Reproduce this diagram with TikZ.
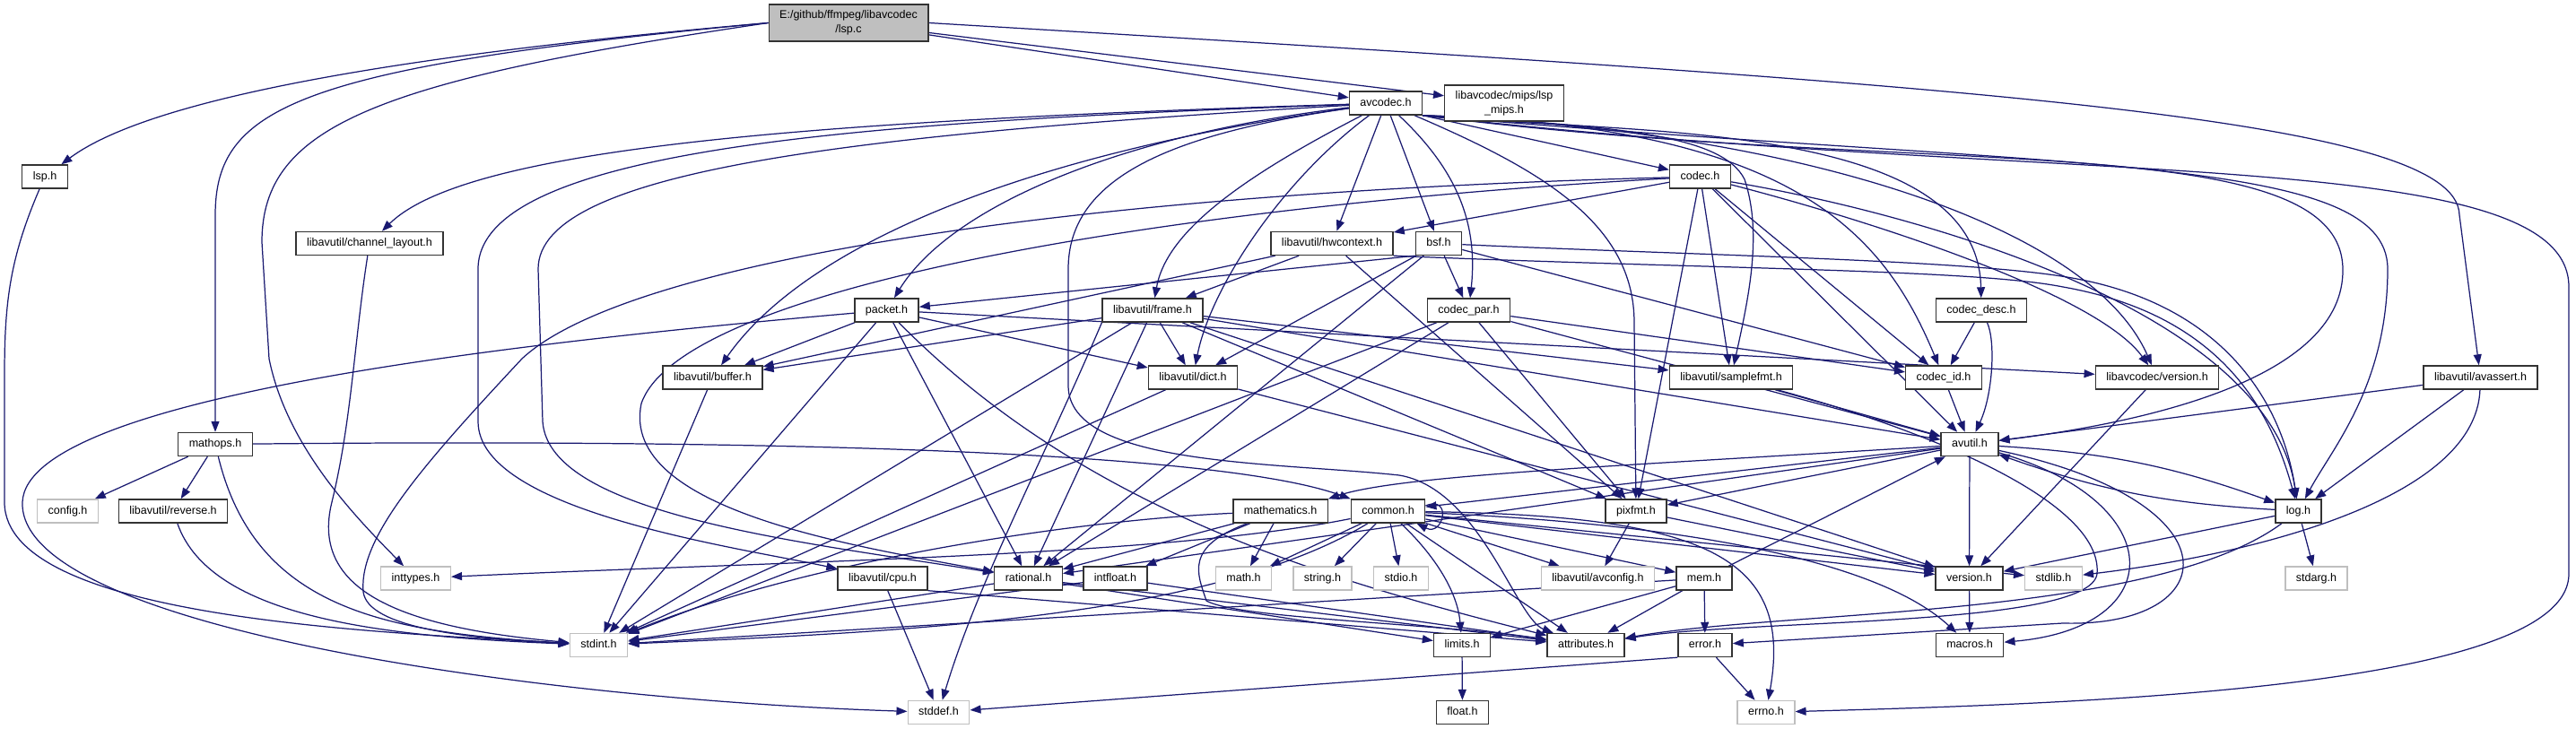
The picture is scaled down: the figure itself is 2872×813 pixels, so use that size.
\documentclass[tikz,border=0pt]{standalone}
\usepackage{fontspec}
\setmainfont{Liberation Sans}
\usepackage{tikz}
\usetikzlibrary{arrows.meta,backgrounds}
\definecolor{edgeblue}{RGB}{25,25,112}
\definecolor{rootgray}{RGB}{191,191,191}
\definecolor{sysgray}{RGB}{191,191,191}

\begin{document}
\begin{tikzpicture}[x=0.01cm, y=-0.01cm,
    font={\fontsize{3.56}{4.55}\selectfont},
    hdr/.style={draw=black!80, fill=white, line width=0.4pt, inner xsep=0.12cm, inner ysep=0pt,
        minimum height=0.26cm, text height=0.092cm, text depth=0.026cm},
    syshdr/.style={hdr, draw=sysgray},
    twoline/.style={hdr, align=center, minimum height=0.40cm, text height={}, text depth={}},
    rootfile/.style={twoline, fill=rootgray, minimum height=0.41cm},
    dep/.style={draw=edgeblue, line width=0.35pt, -{Triangle[length=1.2mm, width=0.9mm]}}]

    \useasboundingbox (0,0) rectangle (2872,813);

    % Row positions (pixels from the top)
    \def\rowO{25.5}
    \def\rowA{115}
    \def\rowB{197}
    \def\rowC{271.5}
    \def\rowD{346}
    \def\rowE{421}
    \def\rowF{495.5}
    \def\rowG{570}
    \def\rowH{645}
    \def\rowI{719.5}
    \def\rowJ{794.5}

    % Files
    \node[rootfile] (lspc) at (946,\rowO) {E:/github/ffmpeg/libavcodec\\/lsp.c};
    \node[hdr] (avcodec) at (1545,\rowA) {avcodec.h};
    \node[twoline] (lspmips) at (1677,\rowA) {libavcodec/mips/lsp\\\_mips.h};
    \node[hdr] (lsph) at (50,\rowB) {lsp.h};
    \node[hdr] (codec) at (1895.5,\rowB) {codec.h};
    \node[hdr] (chlayout) at (412,\rowC) {libavutil/channel\_layout.h};
    \node[hdr] (hwcontext) at (1485,\rowC) {libavutil/hwcontext.h};
    \node[hdr] (bsf) at (1604,\rowC) {bsf.h};
    \node[hdr] (packet) at (988.5,\rowD) {packet.h};
    \node[hdr] (frame) at (1285,\rowD) {libavutil/frame.h};
    \node[hdr] (codecpar) at (1637.5,\rowD) {codec\_par.h};
    \node[hdr] (codecdesc) at (2209,\rowD) {codec\_desc.h};
    \node[hdr] (buffer) at (794.5,\rowE) {libavutil/buffer.h};
    \node[hdr] (dict) at (1330,\rowE) {libavutil/dict.h};
    \node[hdr] (samplefmt) at (1930,\rowE) {libavutil/samplefmt.h};
    \node[hdr] (codecid) at (2167,\rowE) {codec\_id.h};
    \node[hdr] (lavcversion) at (2405,\rowE) {libavcodec/version.h};
    \node[hdr] (avassert) at (2765.5,\rowE) {libavutil/avassert.h};
    \node[hdr] (mathops) at (240,\rowF) {mathops.h};
    \node[hdr] (avutil) at (2196,\rowF) {avutil.h};
    \node[syshdr] (config) at (75.5,\rowG) {config.h};
    \node[hdr] (reverse) at (193,\rowG) {libavutil/reverse.h};
    \node[hdr] (mathematics) at (1427.5,\rowG) {mathematics.h};
    \node[hdr] (common) at (1547.5,\rowG) {common.h};
    \node[hdr] (pixfmt) at (1824,\rowG) {pixfmt.h};
    \node[hdr] (log) at (2562.5,\rowG) {log.h};
    \node[syshdr] (inttypes) at (463.5,\rowH) {inttypes.h};
    \node[hdr] (cpu) at (984,\rowH) {libavutil/cpu.h};
    \node[hdr] (rational) at (1146.5,\rowH) {rational.h};
    \node[hdr] (intfloat) at (1243.5,\rowH) {intfloat.h};
    \node[syshdr] (math) at (1386.5,\rowH) {math.h};
    \node[syshdr] (string) at (1474.5,\rowH) {string.h};
    \node[syshdr] (stdio) at (1562,\rowH) {stdio.h};
    \node[syshdr] (avconfig) at (1781.5,\rowH) {libavutil/avconfig.h};
    \node[hdr] (mem) at (1900,\rowH) {mem.h};
    \node[hdr] (version) at (2195.5,\rowH) {version.h};
    \node[syshdr] (stdlib) at (2289.5,\rowH) {stdlib.h};
    \node[syshdr] (stdarg) at (2582.5,\rowH) {stdarg.h};
    \node[syshdr] (stdint) at (667.5,\rowI) {stdint.h};
    \node[hdr] (limits) at (1630,\rowI) {limits.h};
    \node[hdr] (attributes) at (1768,\rowI) {attributes.h};
    \node[hdr] (error) at (1901,\rowI) {error.h};
    \node[hdr] (macros) at (2196,\rowI) {macros.h};
    \node[syshdr] (stddef) at (1046.5,\rowJ) {stddef.h};
    \node[hdr] (float) at (1630.5,\rowJ) {float.h};
    \node[syshdr] (errno) at (1969,\rowJ) {errno.h};

    \begin{scope}[on background layer]
    \fill[white] (0,0) rectangle (2872,813);

    % Short includes, drawn straight
    \foreach \src/\dst in {lspc/avcodec, lspc/lspmips, mathops/config, mathops/reverse,
        avcodec/hwcontext, avcodec/bsf,
        codec/hwcontext, codec/pixfmt, codec/samplefmt, codec/codecid, codec/avutil,
        bsf/dict, bsf/rational, bsf/codecid, bsf/codecpar,
        codecdesc/codecid, codecid/avutil,
        codecpar/stdint, codecpar/avutil, codecpar/rational, codecpar/pixfmt, codecpar/codecid,
        packet/stdint, packet/buffer, packet/dict, packet/rational, packet/lavcversion,
        lavcversion/version, hwcontext/buffer, hwcontext/frame, hwcontext/pixfmt,
        frame/stdint, frame/avutil, frame/buffer, frame/dict, frame/rational,
        frame/samplefmt, frame/pixfmt, frame/version,
        dict/stdint, dict/version, buffer/stdint, samplefmt/avutil,
        avutil/rational, avutil/version, avutil/pixfmt, avutil/common,
        common/math, common/string, common/stdio, common/stdlib, common/version,
        common/avconfig, common/mem, common/attributes,
        mathematics/math, mathematics/rational, mathematics/intfloat,
        error/errno, mem/limits, mem/stdint, mem/attributes, mem/error, mem/avutil,
        rational/stdint, rational/limits, rational/attributes,
        intfloat/stdint, intfloat/attributes,
        cpu/stddef, pixfmt/avconfig, pixfmt/version, version/macros,
        log/stdarg, log/version, avassert/avutil, avassert/log, limits/float}
        \draw[dep] (\src) -- (\dst);
    \draw[dep] (avcodec.south east) -- (codec);
    \draw[dep] (bsf.south west) -- (packet);
    \draw[dep] (error.south west) -- (stddef);
    \draw[dep] (cpu.south east) -- (attributes);

    % lsp.c
    \draw[dep] (lspc.west) .. controls (520,55) and (180,100) .. (lsph);
    \draw[dep] (lspc.west) .. controls (330,75) and (240,120) .. (240,240) -- (mathops);
    \draw[dep] (lspc.west) .. controls (420,90) and (292,140) .. (292,270) -- (300,400)
        .. controls (320,500) and (400,580) .. (inttypes);
    \draw[dep] (lspc.east) .. controls (2200,95) and (2740,130) .. (2742,240) -- (avassert);

    % left column
    \draw[dep] (lsph) .. controls (10,290) and (5,340) .. (5,420) -- (5,560)
        .. controls (5,690) and (420,705) .. (stdint);
    \draw[dep] (chlayout) .. controls (395,380) and (392,470) .. (370,560)
        .. controls (345,660) and (450,700) .. (stdint);
    \draw[dep] (mathops) .. controls (285,680) and (430,705) .. (stdint);
    \draw[dep] (mathops) .. controls (800,490) and (1350,500) .. (common.north west);
    \draw[dep] (reverse) .. controls (235,690) and (430,710) .. (stdint);
    \draw[dep] (packet) .. controls (600,380) and (30,440) .. (25,560)
        .. controls (20,700) and (600,780) .. (stddef);

    % avcodec.h
    \draw[dep] (avcodec) .. controls (900,135) and (520,165) .. (chlayout);
    \draw[dep] (avcodec) .. controls (1000,135) and (533,160) .. (533,300) -- (533,470)
        .. controls (533,570) and (820,610) .. (cpu);
    \draw[dep] (avcodec) .. controls (950,150) and (600,190) .. (600,300) -- (605,470)
        .. controls (612,575) and (900,605) .. (rational);
    \draw[dep] (avcodec) .. controls (1150,170) and (900,270) .. (buffer);
    \draw[dep] (avcodec) .. controls (1250,150) and (1060,230) .. (packet);
    \draw[dep] (avcodec) .. controls (1380,200) and (1300,260) .. (frame);
    \draw[dep] (avcodec) .. controls (1430,200) and (1350,320) .. (dict);
    \draw[dep] (avcodec) .. controls (1625,190) and (1648,250) .. (codecpar);
    \draw[dep] (avcodec) .. controls (1720,190) and (1822,250) .. (1822,360) -- (pixfmt);
    \draw[dep] (avcodec) .. controls (1300,150) and (1191,200) .. (1191,300) -- (1191,430)
        .. controls (1191,520) and (1420,515) .. (1560,530)
        .. controls (1650,545) and (1690,690) .. (attributes);
    \draw[dep] (avcodec.south east) .. controls (1800,140) and (1920,150) .. (1945,200)
        .. controls (1965,260) and (1950,330) .. (samplefmt);
    \draw[dep] (avcodec.south east) .. controls (1800,150) and (2205,130) .. (codecdesc);
    \draw[dep] (avcodec.south east) .. controls (2000,140) and (2100,260) .. (codecid);
    \draw[dep] (avcodec.south east) .. controls (2000,145) and (2330,250) .. (lavcversion);
    \draw[dep] (avcodec.south east) .. controls (2150,200) and (2610,140) .. (2612,300)
        .. controls (2614,420) and (2400,470) .. (avutil);
    \draw[dep] (avcodec.south east) .. controls (2300,190) and (2662,170) .. (2662,300)
        .. controls (2662,430) and (2600,500) .. (log);
    \draw[dep] (avcodec.south east) .. controls (2300,210) and (2864,160) .. (2864,320) -- (2864,640)
        .. controls (2864,770) and (2300,785) .. (errno);

    % codec.h, hwcontext.h, bsf.h
    \draw[dep] (codec) .. controls (1200,215) and (700,290) .. (582,400)
        .. controls (470,520) and (400,600) .. (405,660)
        .. controls (410,700) and (520,712) .. (stdint);
    \draw[dep] (codec) .. controls (1300,230) and (760,320) .. (715,450)
        .. controls (690,570) and (960,610) .. (rational);
    \draw[dep] (codec) .. controls (2150,240) and (2530,350) .. (log);
    \draw[dep] (codec) .. controls (2100,250) and (2340,330) .. (lavcversion);
    \draw[dep] (hwcontext.south east) .. controls (1900,300) and (2200,300) .. (2300,320)
        .. controls (2470,350) and (2530,450) .. (log);
    \draw[dep] (bsf) .. controls (1900,285) and (2200,290) .. (2310,310)
        .. controls (2480,340) and (2545,450) .. (log);
    \draw[dep] (codecdesc) .. controls (2225,380) and (2222,440) .. (avutil);

    % frame.h, packet.h, samplefmt.h
    \draw[dep] (frame.south west) .. controls (1160,520) and (1090,650) .. (stddef);
    \draw[dep] (packet) .. controls (1200,560) and (1450,640) .. (attributes);
    \draw[dep] (samplefmt) .. controls (2150,480) and (2345,560) .. (2338,640)
        .. controls (2330,700) and (1950,690) .. (attributes);

    % avutil.h, log.h, avassert.h
    \draw[dep] (avutil) .. controls (1800,520) and (1560,530) .. (mathematics.north east);
    \draw[dep] (avutil) .. controls (2500,560) and (2480,700) .. (2300,695) -- (error);
    \draw[dep] (avutil) .. controls (2420,560) and (2420,700) .. (macros);
    \draw[dep] (avutil) to[bend left=8] (log);
    \draw[dep] (log) to[bend left=8] (avutil);
    \draw[dep] (log) .. controls (2400,690) and (1990,680) .. (attributes);
    \draw[dep] (avassert) .. controls (2760,560) and (2500,620) .. (stdlib);

    % common.h, mathematics.h
    \draw[dep] (common) .. controls (1300,620) and (900,625) .. (inttypes);
    \draw[dep] (common) .. controls (1350,690) and (1000,705) .. (stdint);
    \draw[dep] (common) .. controls (1900,575) and (2000,620) .. (errno);
    \draw[dep] (common) .. controls (1600,620) and (1625,660) .. (limits);
    \draw[dep] (common) .. controls (1900,585) and (2100,630) .. (macros);
    \draw[dep] ([yshift=0.06cm]common.east) .. controls +(0.3cm,0.12cm) and +(0.3cm,-0.15cm)
        .. ([xshift=-0.1cm]common.south east);
    \draw[dep] (mathematics) .. controls (1200,580) and (900,625) .. (stdint);
    \draw[dep] (mathematics) .. controls (1320,610) and (1335,640) .. (1345,670)
        .. controls (1380,690) and (1600,695) .. (attributes);
    \end{scope}
\end{tikzpicture}
\end{document}
